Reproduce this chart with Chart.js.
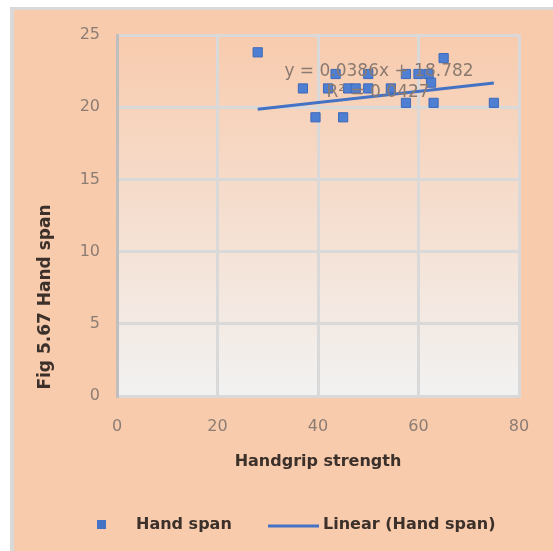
<!DOCTYPE html>
<html>
<head>
<meta charset="utf-8">
<script src="https://cdn.jsdelivr.net/npm/chart.js@4"></script>
<style>
  html, body { margin: 0; padding: 0; background: #ffffff; }
  canvas { display: block; }
</style>
</head>
<body>
<canvas id="scatter-chart" width="553" height="551"></canvas>
<script>
// values
var grip = [28, 37, 39.5, 42, 43.5, 45, 46, 47.5, 50, 50, 54.5, 57.5, 57.5, 60, 62, 62.5, 63, 65, 75];
var span = [23.8, 21.3, 19.3, 21.3, 22.3, 19.3, 21.3, 21.3, 21.3, 22.3, 21.3, 22.3, 20.3, 22.3, 22.3, 21.7, 20.3, 23.4, 20.3];
var trend_x = [28, 75];
var trend_y = [19.86, 21.68];
var x_ticks = [0, 20, 40, 60, 80];
var y_ticks = [0, 5, 10, 15, 20, 25];
var eq_text = "y = 0.0386x + 18.782";
var r2_text = "R\u00b2 = 0.0427";

var ctx = document.getElementById("scatter-chart").getContext("2d");

var points = [];
for (let i = 0; i < grip.length; i++) {
    points.push({ x: grip[i], y: span[i] });
}
var trend = [];
for (let i = 0; i < trend_x.length; i++) {
    trend.push({ x: trend_x[i], y: trend_y[i] });
}

var blue = "#4472C4";
var tick_color = "#8c7d74";
var text_color = "#3b302a";

var backdrop = {
    id: "backdrop",
    beforeDraw: function (chart) {
        let c = chart.ctx;
        let a = chart.chartArea;
        c.save();
        c.fillStyle = "#ffffff";
        c.fillRect(0, 0, chart.width, chart.height);
        c.fillStyle = "#F8CBAD";
        c.fillRect(11, 8, chart.width - 11, chart.height - 8);
        c.fillStyle = "#D9D9D9";
        c.fillRect(11, 7, chart.width - 11, 3);
        c.fillRect(10, 7, 4, chart.height - 7);
        let g = c.createLinearGradient(0, a.top, 0, a.bottom);
        g.addColorStop(0, "#F8CBAD");
        g.addColorStop(1, "#F2F2F2");
        c.fillStyle = g;
        c.fillRect(a.left, a.top, a.right - a.left, a.bottom - a.top);
        c.restore();
    },
    afterDraw: function (chart) {
        let c = chart.ctx;
        let xs = chart.scales.x;
        c.save();
        // trendline label
        c.fillStyle = "#8a7a70";
        c.font = "17px 'DejaVu Sans'";
        c.textAlign = "center";
        c.textBaseline = "middle";
        c.fillText(eq_text, 379, 72);
        c.fillText(r2_text, 378, 93);
        // axis titles
        c.fillStyle = text_color;
        c.font = "bold 16px 'DejaVu Sans'";
        c.fillText("Handgrip strength", (xs.left + xs.right) / 2, 462);
        c.save();
        c.translate(46, 297);
        c.rotate(-Math.PI / 2);
        c.font = "bold 17px 'DejaVu Sans'";
        c.fillText("Fig 5.67 Hand span", 0, 0);
        c.restore();
        // legend
        let ds = chart.data.datasets;
        c.textAlign = "left";
        c.font = "bold 16px 'DejaVu Sans'";
        c.fillStyle = blue;
        c.fillRect(97, 520, 9, 9);
        c.fillStyle = text_color;
        c.fillText(ds[0].label, 136, 525);
        c.strokeStyle = blue;
        c.lineWidth = 3;
        c.beginPath();
        c.moveTo(268, 526);
        c.lineTo(319, 526);
        c.stroke();
        c.fillText(ds[1].label, 323, 525);
        c.restore();
    }
};

var chart = new Chart(ctx, {
    type: "scatter",
    data: {
        datasets: [
            {
                label: "Hand span",
                data: points,
                pointStyle: "rect",
                pointRadius: 6.5,
                pointHoverRadius: 6.5,
                backgroundColor: "#4F7FD2",
                borderColor: "#3F69B8",
                borderWidth: 1,
                showLine: false,
            },
            {
                label: "Linear (Hand span)",
                type: "line",
                data: trend,
                borderColor: blue,
                borderWidth: 3,
                pointRadius: 0,
                fill: false,
            },
        ],
    },
    options: {
        responsive: false,
        animation: false,
        devicePixelRatio: 1,
        layout: { padding: { left: 0, top: 35, right: 34, bottom: 0 } },
        plugins: {
            legend: { display: false },
            tooltip: { enabled: false },
        },
        scales: {
            x: {
                type: "linear",
                min: 0,
                max: 80,
                afterBuildTicks: function (s) {
                    s.ticks = x_ticks.map(function (v) { return { value: v }; });
                },
                afterFit: function (s) { s.height = 155; },
                ticks: {
                    color: tick_color,
                    font: { family: "DejaVu Sans", size: 16 },
                    padding: 21,
                },
                grid: { color: "#D9D9D9", lineWidth: 3, drawTicks: false },
                border: { color: "#D9D9D9", width: 3 },
            },
            y: {
                type: "linear",
                min: 0,
                max: 25,
                afterBuildTicks: function (s) {
                    s.ticks = y_ticks.map(function (v) { return { value: v }; });
                },
                afterFit: function (s) { s.width = 117; },
                ticks: {
                    color: tick_color,
                    font: { family: "DejaVu Sans", size: 16 },
                    padding: 17,
                },
                grid: { color: "#D9D9D9", lineWidth: 3, drawTicks: false },
                border: { color: "#BFBFBF", width: 3 },
            },
        },
    },
    plugins: [backdrop],
});
</script>
</body>
</html>
